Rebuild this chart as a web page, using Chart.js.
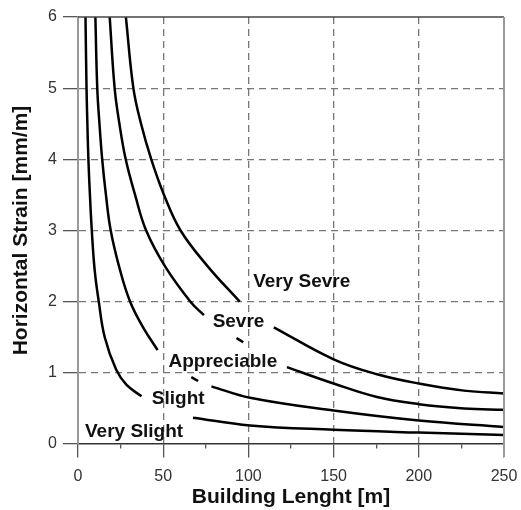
<!DOCTYPE html>
<html>
<head>
<meta charset="utf-8">
<script src="https://cdn.jsdelivr.net/npm/chart.js@4.4.1/dist/chart.umd.min.js"></script>
<style>
  html, body { margin: 0; padding: 0; background: #fff; }
  #chart { display: block; }
</style>
</head>
<body>
<canvas id="chart" width="521" height="510"></canvas>
<script>
// curve data, null y = gap where a label sits
const verySevreX = [28.1, 32.5, 37, 43, 50.5, 60.2, 76, 94.9, 105, 114.9, 150, 175.5, 200, 226.5, 250];
const verySevreY = [6, 5, 4.5, 4, 3.5, 3, 2.5, 2.0, null, 1.64, 1.19, 0.98, 0.85, 0.75, 0.71];

const sevreX = [18.6, 21.5, 24.3, 28, 33.5, 40, 51, 66, 73.9, 84, 93, 97, 110, 122.6, 150, 175.5, 200, 226.5, 250];
const sevreY = [6, 5, 4.5, 4, 3.5, 3, 2.5, 2.0, 1.81, null, 1.49, 1.43, null, 1.08, 0.85, 0.66, 0.56, 0.50, 0.48];

const appreciableX = [10.2, 11.3, 12.6, 14.2, 16.4, 19.2, 24.6, 30.6, 38.2, 46.7, 57, 66.5, 70.5, 74, 78.3, 101, 150, 200, 250];
const appreciableY = [6, 5, 4.5, 4, 3.5, 3, 2.45, 2, 1.64, 1.32, null, 0.94, 0.885, null, 0.81, 0.65, 0.47, 0.33, 0.24];

const slightX = [4.4, 5.0, 5.5, 6.1, 7.0, 8.1, 9.8, 12.2, 15.7, 22.3, 28.5, 37.3, 52, 67.5, 101, 150, 200, 250];
const slightY = [6, 5, 4.5, 4, 3.5, 3, 2.44, 2, 1.5, 1.05, 0.83, 0.67, null, 0.37, 0.26, 0.2, 0.16, 0.126];

const curveNames = ['Very Sevre', 'Sevre', 'Appreciable', 'Slight', 'Very Slight'];
// where each name is written (data units, centre x / baseline y)
const nameX = [131.3, 94.2, 85, 58.8, 32.9];
const nameY = [2.2, 1.64, 1.08, 0.56, 0.1];

const xTicks = [0, 50, 100, 150, 200, 250];
const yTicks = [0, 1, 2, 3, 4, 5, 6];

function toPoints(xs, ys) {
    return xs.map((x, i) => ({ x: x, y: ys[i] }));
}

function curve(name, xs, ys) {
    return {
        label: name,
        data: toPoints(xs, ys),
        borderColor: '#000',
        borderWidth: 2.5,
        pointRadius: 0,
        fill: false,
        spanGaps: false,
        tension: 0.4
    };
}

const frameAndNames = {
    id: 'frameAndNames',
    afterDatasetsDraw(chart) {
        const ctx = chart.ctx;
        const a = chart.chartArea;
        ctx.save();
        // top and right frame lines
        ctx.strokeStyle = '#444';
        ctx.lineWidth = 1.5;
        ctx.beginPath();
        ctx.moveTo(a.left, a.top);
        ctx.lineTo(a.right, a.top);
        ctx.stroke();
        ctx.strokeStyle = '#999';
        ctx.lineWidth = 2;
        ctx.beginPath();
        ctx.moveTo(a.right, a.top);
        ctx.lineTo(a.right, a.bottom + 13);
        ctx.stroke();

        const xs = chart.scales.x, ys = chart.scales.y;
        ctx.fillStyle = '#111';
        ctx.font = 'bold 19px "Liberation Sans", Arial, sans-serif';
        ctx.textAlign = 'center';
        ctx.textBaseline = 'alphabetic';
        curveNames.forEach((n, i) => {
            ctx.fillText(n, xs.getPixelForValue(nameX[i]), ys.getPixelForValue(nameY[i]));
        });
        ctx.restore();
    }
};

const tickFont = { family: '"Liberation Sans", Arial, sans-serif', size: 16 };
const titleFont = { family: '"Liberation Sans", Arial, sans-serif', size: 21, weight: 'bold' };

new Chart(document.getElementById('chart'), {
    type: 'line',
    data: {
        datasets: [
            curve(curveNames[0], verySevreX, verySevreY),
            curve(curveNames[1], sevreX, sevreY),
            curve(curveNames[2], appreciableX, appreciableY),
            curve(curveNames[3], slightX, slightY)
        ]
    },
    options: {
        responsive: false,
        animation: false,
        devicePixelRatio: 1,
        layout: { padding: { top: 17, right: 17, left: 0, bottom: 0 } },
        plugins: { legend: { display: false }, tooltip: { enabled: false } },
        scales: {
            x: {
                type: 'linear',
                min: 0,
                max: 250,
                afterFit: function(s) { s.height = 66; s.paddingRight = 13; },
                afterBuildTicks: function(s) {
                    // major ticks every 50, minor ones in between
                    const t = [];
                    for (let v = 0; v <= 250; v += 25) t.push({ value: v });
                    s.ticks = t;
                },
                ticks: {
                    autoSkip: false,
                    maxRotation: 0,
                    padding: 6,
                    color: '#333',
                    font: tickFont,
                    callback: v => xTicks.includes(v) ? String(v) : ''
                },
                grid: {
                    color: c => (c.tick && c.tick.value % 50 === 0 && c.tick.value > 0 && c.tick.value < 250) ? '#777' : 'rgba(0,0,0,0)',
                    lineWidth: 1.3,
                    tickLength: 17,
                    tickColor: '#555',
                    tickWidth: 1.3,
                    // short minor ticks, 13px major ticks
                    tickBorderDash: c => (c.tick && c.tick.value % 50 !== 0) ? [4, 60] : [13, 60]
                },
                border: { color: '#333', width: 1.5, dash: [7, 5] },
                title: { display: true, text: 'Building Lenght [m]', color: '#111', font: titleFont, padding: { top: 0, bottom: 0 } }
            },
            y: {
                type: 'linear',
                min: 0,
                max: 6,
                afterFit: function(s) { s.width = 78; },
                afterBuildTicks: function(s) { s.ticks = yTicks.map(v => ({ value: v })); },
                ticks: { padding: 6, color: '#333', font: tickFont },
                grid: {
                    color: c => (c.tick && c.tick.value > 0 && c.tick.value < 6) ? '#777' : 'rgba(0,0,0,0)',
                    lineWidth: 1.3,
                    tickLength: 15,
                    tickColor: '#555',
                    tickWidth: 1.3
                },
                border: { color: '#999', width: 2, dash: [7, 5] },
                title: { display: true, text: 'Horizontal Strain [mm/m]', color: '#111', font: titleFont, padding: { top: 9, bottom: 0 } }
            }
        }
    },
    plugins: [frameAndNames]
});
</script>
</body>
</html>
